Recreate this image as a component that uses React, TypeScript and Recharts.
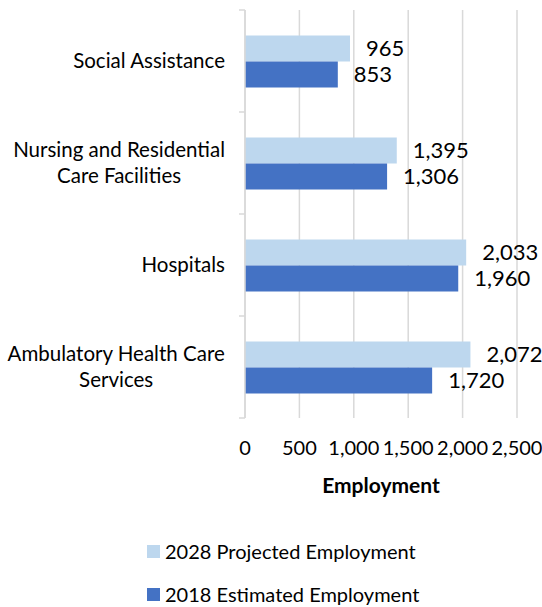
import { BarChart, Bar, XAxis, YAxis, CartesianGrid, Legend, LabelList } from "recharts";

const categories = [
  "Social Assistance",
  "Nursing and Residential Care Facilities",
  "Hospitals",
  "Ambulatory Health Care Services",
];
const projected2028 = [965, 1395, 2033, 2072];
const estimated2018 = [853, 1306, 1960, 1720];
const xTicks = [0, 500, 1000, 1500, 2000, 2500];
const seriesNames = ["2028 Projected Employment", "2018 Estimated Employment"];
const seriesColors = ["#bdd7ee", "#4472c4"];

const data = categories.map((name, i) => ({
  name,
  projected: projected2028[i],
  estimated: estimated2018[i],
}));

const W = 542;
const H = 607;
const FONT = "Lato, 'Open Sans', sans-serif";
const AXIS_W = 245;
const TOP = 10;
const PLOT_H = 408;
const BAND = PLOT_H / categories.length;
const GRID = "#d9d9d9";
const CAT_SIZE = 20.5;

let ctx: CanvasRenderingContext2D | null = null;
function textWidth(s: string, size: number) {
  if (!ctx) ctx = document.createElement("canvas").getContext("2d");
  if (!ctx) return s.length * size * 0.5;
  ctx.font = `${size}px Lato`;
  return ctx.measureText(s).width;
}

function wrap(s: string, maxChars: number) {
  const out: string[] = [];
  let line = "";
  for (const w of s.split(" ")) {
    const next = line ? line + " " + w : w;
    if (next.length > maxChars && line) {
      out.push(line);
      line = w;
    } else line = next;
  }
  out.push(line);
  return out;
}

function CategoryTick(props: any) {
  const { y, payload, index } = props;
  const lines = wrap(payload.value, 24);
  const lh = 26;
  const right = AXIS_W - 20;
  const maxW = Math.max(...lines.map((l) => textWidth(l, CAT_SIZE)));
  const cx = right - maxW / 2;
  const y0 = y - ((lines.length - 1) * lh) / 2;
  return (
    <g>
      <line x1={AXIS_W - 6} x2={AXIS_W} y1={y - BAND / 2} y2={y - BAND / 2} stroke={GRID} strokeWidth={1.5} />
      {index === categories.length - 1 && (
        <line x1={AXIS_W - 6} x2={AXIS_W} y1={y + BAND / 2} y2={y + BAND / 2} stroke={GRID} strokeWidth={1.5} />
      )}
      {lines.map((l, i) => (
        <text
          key={i}
          x={lines.length > 1 ? cx : right}
          y={y0 + i * lh}
          dy="0.35em"
          textAnchor={lines.length > 1 ? "middle" : "end"}
          fontSize={CAT_SIZE}
          fill="#000"
          fontFamily={FONT}
        >
          {l}
        </text>
      ))}
    </g>
  );
}

function LegendContent(props: any) {
  const { payload = [] } = props;
  const items = [...payload].sort(
    (a: any, b: any) => seriesNames.indexOf(a.value) - seriesNames.indexOf(b.value)
  );
  return (
    <div style={{ position: "relative", height: 84, width: W, fontFamily: FONT }}>
      {items.map((p: any, i: number) => (
        <div
          key={p.value}
          style={{
            position: "absolute",
            left: 147,
            top: 15 + i * 43,
            height: 26,
            display: "flex",
            alignItems: "center",
            fontSize: 20,
            color: "#000",
          }}
        >
          <span style={{ width: 13, height: 13, background: p.color, marginRight: 5 }} />
          {p.value}
        </div>
      ))}
    </div>
  );
}

export default function App() {
  return (
    <div style={{ position: "absolute", left: 0, top: 0, width: W, height: H, background: "#fff" }}>
      <BarChart
        width={W}
        height={H}
        data={data}
        layout="vertical"
        margin={{ top: TOP, right: 25, left: 0, bottom: 0 }}
        barCategoryGap="25%"
        barGap={0}
      >
        <CartesianGrid horizontal={false} stroke={GRID} strokeWidth={1.5} />
        <XAxis
          type="number"
          domain={[0, 2500]}
          ticks={xTicks}
          interval={0}
          tickFormatter={(v: number) => v.toLocaleString("en-US")}
          axisLine={false}
          tickLine={false}
          height={105}
          tickMargin={17}
          tick={{ fontSize: 20, fill: "#000", fontFamily: FONT }}
          label={{
            value: "Employment",
            position: "insideBottom",
            offset: 30,
            style: { fontSize: 21, fontWeight: 700, fill: "#000", fontFamily: FONT },
          }}
        />
        <YAxis
          type="category"
          dataKey="name"
          width={AXIS_W}
          axisLine={{ stroke: GRID, strokeWidth: 1.5 }}
          tickLine={false}
          tick={<CategoryTick />}
          interval={0}
        />
        <Legend
          layout="vertical"
          verticalAlign="bottom"
          align="center"
          wrapperStyle={{ left: 0, bottom: 0, width: W }}
          content={<LegendContent />}
        />
        <Bar dataKey="projected" name={seriesNames[0]} fill={seriesColors[0]} isAnimationActive={false}>
          <LabelList
            dataKey="projected"
            position="right"
            offset={16}
            formatter={(v: any) => Number(v).toLocaleString("en-US")}
            style={{ fontSize: 22, fill: "#000", fontFamily: FONT }}
          />
        </Bar>
        <Bar dataKey="estimated" name={seriesNames[1]} fill={seriesColors[1]} isAnimationActive={false}>
          <LabelList
            dataKey="estimated"
            position="right"
            offset={16}
            formatter={(v: any) => Number(v).toLocaleString("en-US")}
            style={{ fontSize: 22, fill: "#000", fontFamily: FONT }}
          />
        </Bar>
      </BarChart>
    </div>
  );
}
